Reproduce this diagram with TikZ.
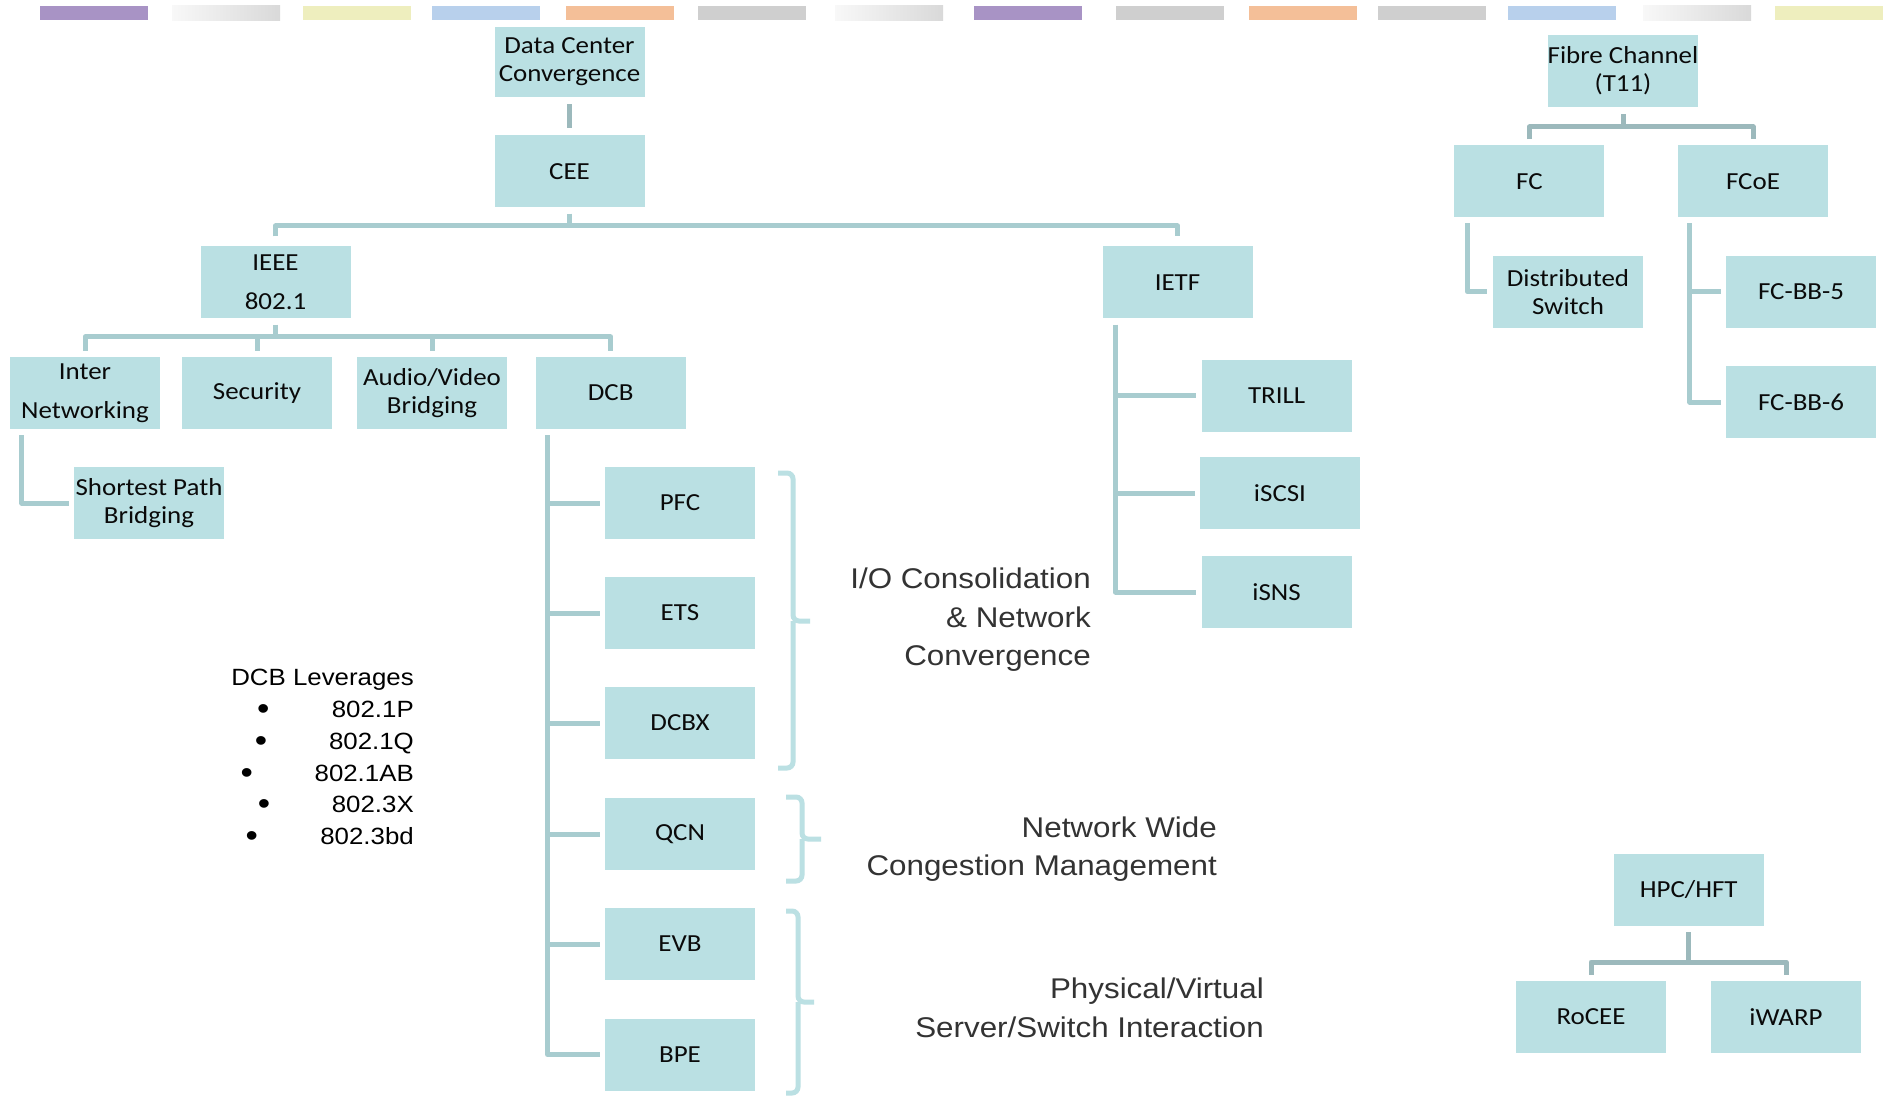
\documentclass[tikz,border=0pt]{standalone}
\usepackage{fontspec}
\setmainfont{Carlito}[FakeStretch=1.1]
\newfontfamily\lblfamily{Liberation Sans}[FakeStretch=1.1]
\usetikzlibrary{calc}

\definecolor{boxfill}{HTML}{BAE0E3}
\definecolor{connA}{HTML}{A8CCCF}
\definecolor{connB}{HTML}{9CB9BC}
\definecolor{braceC}{HTML}{BBE0E3}
\definecolor{lbltext}{HTML}{333333}
\definecolor{bxtext}{HTML}{0A0A0A}
\definecolor{barPurple}{HTML}{A893C5}
\definecolor{barYellow}{HTML}{EEEEBE}
\definecolor{barBlue}{HTML}{B8D0EC}
\definecolor{barOrange}{HTML}{F4BF98}
\definecolor{barGray}{HTML}{CFCFCF}
\definecolor{barLight}{HTML}{F8F8F8}
\definecolor{barDark}{HTML}{D9D9D9}

\newcommand\bxfont{\fontsize{24.5}{28}\selectfont}
\newcommand\bxfontwide{\fontsize{24.5}{39}\selectfont}
\newcommand\lblfont{\lblfamily\fontsize{28.5}{34}\selectfont}
\newcommand\levfont{\lblfamily\fontsize{23.5}{28}\selectfont}
\newcommand\bulfont{\lblfamily\fontsize{32}{32}\selectfont}

\tikzset{
  box/.style={fill=boxfill, minimum width=150pt, minimum height=72pt,
    inner sep=0pt, align=center, font=\bxfont, text=bxtext},
  conn/.style={draw=connA, line width=5pt, line join=round},
  conndark/.style={conn, draw=connB},
  bracket/.style={draw=braceC, line width=5pt, rounded corners=6pt},
  lbl/.style={font=\lblfont, text=lbltext, inner sep=0pt, anchor=base east},
  lev/.style={font=\levfont, text=black, inner sep=0pt, anchor=base east},
  bul/.style={font=\bulfont, text=black, inner sep=0pt, anchor=base},
  flatbar/.style={draw=none},
  gradbar/.style={left color=barLight, right color=barDark, draw=none},
}

\begin{document}
\begin{tikzpicture}[x=1pt, y=-1pt]
\useasboundingbox[fill=white] (0,0) rectangle (1888,1099);

% colour strip along the top
\path[flatbar, fill=barPurple] (40,6) rectangle ++(108,14.5);
\path[gradbar] (172,6) rectangle ++(108,14.5);
\path[flatbar, fill=barYellow] (303,6) rectangle ++(108,14.5);
\path[flatbar, fill=barBlue] (432,6) rectangle ++(108,14.5);
\path[flatbar, fill=barOrange] (566,6) rectangle ++(108,14.5);
\path[flatbar, fill=barGray] (698,6) rectangle ++(108,14.5);
\path[gradbar] (835,6) rectangle ++(108,14.5);
\path[flatbar, fill=barPurple] (974,6) rectangle ++(108,14.5);
\path[flatbar, fill=barGray] (1116,6) rectangle ++(108,14.5);
\path[flatbar, fill=barOrange] (1249,6) rectangle ++(108,14.5);
\path[flatbar, fill=barGray] (1378,6) rectangle ++(108,14.5);
\path[flatbar, fill=barBlue] (1508,6) rectangle ++(108,14.5);
\path[gradbar] (1643,6) rectangle ++(108,14.5);
\path[flatbar, fill=barYellow] (1775,6) rectangle ++(108,14.5);

% main tree
\node[box, minimum height=70pt] (dcc) at (569.5,62) {Data Center\\Convergence};
\node[box] (cee) at (569.5,171.5) {CEE};
\node[box, font=\bxfontwide] (ieee) at (275.5,282.5) {IEEE\\802.1};
\node[box] (ietf) at (1177.5,282.5) {IETF};

\node[box, font=\bxfontwide] (inter) at (85,393) {Inter\\Networking};
\node[box] (sec) at (257,393) {Security};
\node[box] (avb) at (432,393) {Audio/Video\\Bridging};
\node[box] (dcb) at (610.7,393) {DCB};
\node[box] (spb) at (149,503) {Shortest Path\\Bridging};

\node[box] (pfc) at (680,503) {PFC};
\node[box] (ets) at (680,613) {ETS};
\node[box] (dcbx) at (680,723) {DCBX};
\node[box] (qcn) at (680,834) {QCN};
\node[box] (evb) at (680,944) {EVB};
\node[box] (bpe) at (680,1054.5) {BPE};

\node[box] (trill) at (1276.6,395.7) {TRILL};
\node[box, minimum width=160pt] (iscsi) at (1280,493) {iSCSI};
\node[box] (isns) at (1276.6,592) {iSNS};

% fibre channel tree
\node[box] (fibre) at (1623,71) {Fibre Channel\\(T11)};
\node[box] (fc) at (1529.4,181.3) {FC};
\node[box] (fcoe) at (1753,181.3) {FCoE};
\node[box] (dsw) at (1568,291.7) {Distributed\\Switch};
\node[box] (fcbb5) at (1801,291.7) {FC-BB-5};
\node[box] (fcbb6) at (1801,402) {FC-BB-6};

% HPC tree
\node[box] (hpc) at (1688.7,890) {HPC/HFT};
\node[box] (rocee) at (1591,1017) {RoCEE};
\node[box] (iwarp) at (1786,1017) {iWARP};

% connectors: top
\draw[conndark] ([yshift=-7pt]dcc.south) -- ([yshift=7pt]cee.north);
\draw[conn] ([yshift=-6pt]cee.south) -- (cee.south |- 0,226);
\draw[conn] ([yshift=10pt]ieee.north) |- (ietf.north |- 0,226) -- ([yshift=10pt]ietf.north);

% connectors: IEEE 802.1
\draw[conn] ([yshift=-6pt]ieee.south) -- (ieee.south |- 0,337);
\draw[conn] ([yshift=6pt]inter.north) |- (dcb.north |- 0,337) -- ([yshift=6pt]dcb.north);
\draw[conn] ([yshift=6pt]sec.north) -- (sec.north |- 0,337);
\draw[conn] ([yshift=6pt]avb.north) -- (avb.north |- 0,337);
\draw[conn] ([xshift=12pt,yshift=-6pt]inter.south west) |- ([xshift=-5pt]spb.west);

% connectors: DCB
\coordinate (dcbtrunk) at ([xshift=12pt,yshift=-6pt]dcb.south west);
\draw[conn] (dcbtrunk) |- ([xshift=-5pt]bpe.west);
\foreach \n in {pfc,ets,dcbx,qcn,evb}
  \draw[conn] (dcbtrunk |- \n.west) -- ([xshift=-5pt]\n.west);

% connectors: IETF
\coordinate (ietftrunk) at ([xshift=13pt,yshift=-6pt]ietf.south west);
\draw[conn] (ietftrunk) |- ([xshift=-5pt]isns.west);
\foreach \n in {trill,iscsi}
  \draw[conn] (ietftrunk |- \n.west) -- ([xshift=-5pt]\n.west);

% connectors: fibre channel
\draw[conndark] ([yshift=-7pt]fibre.south) -- (fibre.south |- 0,127);
\draw[conndark] ([yshift=6pt]fc.north) |- (fcoe.north |- 0,127) -- ([yshift=6pt]fcoe.north);
\draw[conn] ([xshift=13pt,yshift=-6pt]fc.south west) |- ([xshift=-6pt]dsw.west);
\coordinate (fcoetrunk) at ([xshift=12pt,yshift=-6pt]fcoe.south west);
\draw[conn] (fcoetrunk) |- ([xshift=-5pt]fcbb6.west);
\draw[conn] (fcoetrunk |- fcbb5.west) -- ([xshift=-5pt]fcbb5.west);

% connectors: HPC
\draw[conndark] ([yshift=-6pt]hpc.south) -- (hpc.south |- 0,962);
\draw[conndark] ([yshift=6pt]rocee.north) |- (iwarp.north |- 0,962) -- ([yshift=6pt]iwarp.north);

% brackets grouping the DCB parts
\draw[bracket] (778,473) -- (793,473) -- (793,621) -- (810,621);
\draw[bracket] (778,768) -- (793,768) -- (793,621);
\draw[bracket] (786,797) -- (802,797) -- (802,839) -- (821,839);
\draw[bracket] (786,881) -- (802,881) -- (802,839);
\draw[bracket] (786,911) -- (798,911) -- (798,1002) -- (814,1002);
\draw[bracket] (786,1093) -- (798,1093) -- (798,1002);

% group captions
\node[lbl] (io1) at (1091,588) {I/O Consolidation};
\node[lbl] (io2) at (1091,627) {\& Network};
\node[lbl] (io3) at (1091,665) {Convergence};
\node[lbl] (nw1) at (1217,837) {Network Wide};
\node[lbl] (nw2) at (1217,875) {Congestion Management};
\node[lbl] (pv1) at (1264,998) {Physical/Virtual};
\node[lbl] (pv2) at (1264,1037) {Server/Switch Interaction};

% list of standards used by DCB
\node[lev] (levhead) at (414,685) {DCB Leverages};
\node[lev] (lev1) at (414,717) {802.1P};
\node[lev] (lev2) at (414,749) {802.1Q};
\node[lev] (lev3) at (414,781) {802.1AB};
\node[lev] (lev4) at (414,812.5) {802.3X};
\node[lev] (lev5) at (414,844.5) {802.3bd};
\node[bul] (b1) at (263.3,719) {•};
\node[bul] (b2) at (261,751) {•};
\node[bul] (b3) at (246.7,783) {•};
\node[bul] (b4) at (264,814.5) {•};
\node[bul] (b5) at (251.7,846.5) {•};
\end{tikzpicture}
\end{document}
